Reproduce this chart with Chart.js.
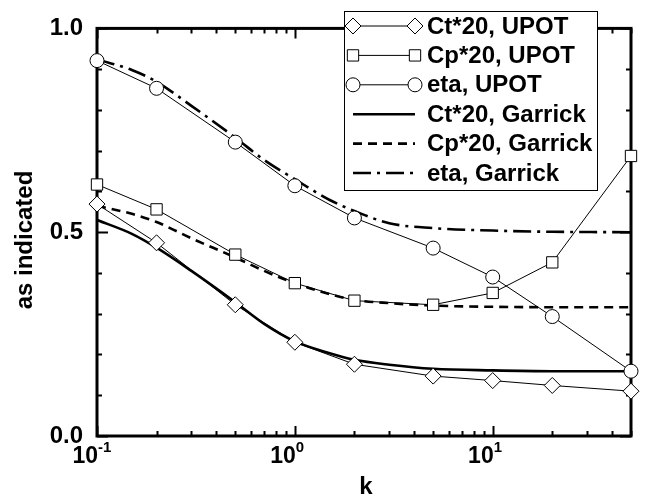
<!DOCTYPE html>
<html>
<head>
<meta charset="utf-8">
<script src="https://cdn.jsdelivr.net/npm/chart.js@4/dist/chart.umd.min.js"></script>
<style>
  body { margin: 0; background: #fff; }
  #wrap { width: 645px; height: 500px; }
</style>
</head>
<body>
<div id="wrap"><canvas id="chart" width="645" height="500"></canvas></div>
<script>
// UPOT results (markers)
const kUpot = [0.1, 0.2, 0.5, 1, 2, 5, 10, 20, 50];
const ctUpot = [0.569, 0.474, 0.322, 0.230, 0.176, 0.147, 0.136, 0.124, 0.110];
const cpUpot = [0.617, 0.556, 0.445, 0.375, 0.332, 0.322, 0.351, 0.426, 0.687];
const etaUpot = [0.921, 0.853, 0.721, 0.614, 0.535, 0.461, 0.390, 0.293, 0.159];

// Garrick theory (curves)
const kGarrick = [0.1, 0.15, 0.2, 0.3, 0.5, 0.7, 1, 1.5, 2, 3, 5, 10, 20, 50];
const ctGarrick = [0.530, 0.496, 0.462, 0.405, 0.328, 0.275, 0.232, 0.203, 0.187, 0.175, 0.165, 0.161, 0.159, 0.159];
const cpGarrick = [0.565, 0.545, 0.525, 0.485, 0.438, 0.405, 0.375, 0.348, 0.334, 0.326, 0.320, 0.317, 0.316, 0.316];
const etaGarrick = [0.924, 0.898, 0.869, 0.810, 0.732, 0.677, 0.630, 0.579, 0.552, 0.522, 0.510, 0.504, 0.501, 0.500];

// tick labels
const yTickLabels = ["0.0", "0.5", "1.0"];
const xDecades = [0.1, 1, 10];
const xExponents = ["-1", "0", "1"];

const FONT = "'Liberation Sans', Arial, sans-serif";

function pts(xs, ys) {
  return xs.map((x, i) => ({ x: x, y: ys[i] }));
}

function upotSet(label, ys, style, radius) {
  return {
    label: label,
    data: pts(kUpot, ys),
    borderColor: "#000",
    borderWidth: 1,
    backgroundColor: "#fff",
    pointStyle: style,
    pointRadius: radius,
    pointBorderWidth: 1,
    pointBackgroundColor: "#fff",
    pointBorderColor: "#000",
    tension: 0,
    clip: false
  };
}

function garrickSet(label, ys, dash) {
  return {
    label: label,
    data: pts(kGarrick, ys),
    borderColor: "#000",
    borderWidth: 2.6,
    borderDash: dash,
    pointRadius: 0,
    cubicInterpolationMode: "monotone",
    fill: false,
    clip: false
  };
}

const datasets = [
  upotSet("Ct*20, UPOT", ctUpot, "rectRot", 8),
  upotSet("Cp*20, UPOT", cpUpot, "rect", 8),
  upotSet("eta, UPOT", etaUpot, "circle", 7),
  garrickSet("Ct*20, Garrick", ctGarrick, []),
  garrickSet("Cp*20, Garrick", cpGarrick, [9, 6]),
  garrickSet("eta, Garrick", etaGarrick, [18, 6, 3, 6])
];

// marker drawing for legend
function marker(ctx, style, r, x, y) {
  ctx.save();
  ctx.fillStyle = "#fff";
  ctx.strokeStyle = "#000";
  ctx.lineWidth = 1;
  ctx.setLineDash([]);
  ctx.beginPath();
  if (style === "circle") {
    ctx.arc(x, y, r, 0, Math.PI * 2);
  } else if (style === "rect") {
    const h = r * Math.SQRT1_2;
    ctx.rect(x - h, y - h, 2 * h, 2 * h);
  } else {
    ctx.moveTo(x, y - r);
    ctx.lineTo(x + r, y);
    ctx.lineTo(x, y + r);
    ctx.lineTo(x - r, y);
    ctx.closePath();
  }
  ctx.fill();
  ctx.stroke();
  ctx.restore();
}

// frame, inward ticks
const framePlugin = {
  id: "frame",
  beforeDatasetsDraw(chart) {
    const ctx = chart.ctx;
    const a = chart.chartArea;
    const xs = chart.scales.x;
    const ys = chart.scales.y;
    ctx.save();
    ctx.strokeStyle = "#000";
    ctx.lineWidth = 2;
    ctx.beginPath();
    // x ticks: decades long, 2..9 short
    for (let d = 0.1; d < 100; d *= 10) {
      for (let m = 1; m <= 9; m++) {
        const v = d * m;
        if (v < 0.1 - 1e-9 || v > 50 + 1e-9) continue;
        const px = Math.round(xs.getPixelForValue(v)) + 0.5;
        const len = m === 1 ? 10 : 5;
        ctx.moveTo(px, a.bottom);
        ctx.lineTo(px, a.bottom - len);
        ctx.moveTo(px, a.top);
        ctx.lineTo(px, a.top + len);
      }
    }
    // y ticks every 0.1
    for (let i = 0; i <= 10; i++) {
      const py = Math.round(ys.getPixelForValue(i / 10)) + 0.5;
      const len = i % 5 === 0 ? 11 : 5;
      ctx.moveTo(a.left, py);
      ctx.lineTo(a.left + len, py);
      ctx.moveTo(a.right, py);
      ctx.lineTo(a.right - len, py);
    }
    ctx.stroke();
    ctx.lineWidth = 3;
    ctx.strokeRect(a.left, a.top, a.right - a.left, a.bottom - a.top);
    ctx.restore();
  },
  afterDraw(chart) {
    const ctx = chart.ctx;
    const a = chart.chartArea;
    const xs = chart.scales.x;
    ctx.save();
    ctx.fillStyle = "#000";
    // x tick labels 10^n
    xDecades.forEach((v, i) => {
      const px = xs.getPixelForValue(v);
      ctx.font = "bold 23px " + FONT;
      ctx.textAlign = "right";
      ctx.textBaseline = "alphabetic";
      ctx.fillText("10", px + 1, 463);
      ctx.font = "bold 15px " + FONT;
      ctx.textAlign = "left";
      ctx.fillText(xExponents[i], px + 1, 452);
    });
    // axis titles
    ctx.font = "bold 24px " + FONT;
    ctx.textAlign = "center";
    ctx.textBaseline = "alphabetic";
    ctx.fillText("k", (a.left + a.right) / 2 + 2, 494);
    ctx.translate(32, 240);
    ctx.rotate(-Math.PI / 2);
    ctx.fillText("as indicated", 0, 0);
    ctx.restore();

    // legend box
    ctx.save();
    const lx = 344, ly = 11, lw = 253, lh = 179;
    ctx.fillStyle = "#fff";
    ctx.fillRect(lx, ly, lw, lh);
    ctx.strokeStyle = "#000";
    ctx.lineWidth = 1;
    ctx.strokeRect(lx + 0.5, ly + 0.5, lw, lh);
    chart.data.datasets.forEach((ds, i) => {
      const y = 26 + i * 29.4;
      ctx.save();
      ctx.strokeStyle = "#000";
      ctx.lineWidth = ds.borderWidth;
      ctx.setLineDash(ds.borderDash || []);
      ctx.beginPath();
      ctx.moveTo(353, y);
      ctx.lineTo(415, y);
      ctx.stroke();
      ctx.restore();
      if (ds.pointRadius > 0) {
        marker(ctx, ds.pointStyle, ds.pointRadius, 353, y);
        marker(ctx, ds.pointStyle, ds.pointRadius, 415, y);
      }
      ctx.fillStyle = "#000";
      ctx.font = "bold 24px " + FONT;
      ctx.textAlign = "left";
      ctx.textBaseline = "middle";
      ctx.fillText(ds.label, 427, y + 1);
    });
    ctx.restore();
  }
};

new Chart(document.getElementById("chart"), {
  type: "line",
  data: { datasets: datasets },
  options: {
    responsive: false,
    devicePixelRatio: 1,
    animation: false,
    layout: { padding: { top: 11, right: 14, left: 0, bottom: 0 } },
    plugins: {
      legend: { display: false },
      tooltip: { enabled: false }
    },
    scales: {
      x: {
        type: "logarithmic",
        min: 0.1,
        max: 50,
        grid: { display: false, drawTicks: false },
        border: { display: false },
        ticks: { display: false },
        afterFit(scale) { scale.height = 64; }
      },
      y: {
        type: "linear",
        min: 0,
        max: 1,
        grid: { display: false, drawTicks: false },
        border: { display: false },
        ticks: {
          stepSize: 0.5,
          padding: 14,
          color: "#000",
          font: { family: FONT, size: 24, weight: "bold" },
          callback: (v) => yTickLabels[Math.round(v * 2)]
        },
        afterFit(scale) { scale.width = 97; }
      }
    }
  },
  plugins: [framePlugin]
});
</script>
</body>
</html>
